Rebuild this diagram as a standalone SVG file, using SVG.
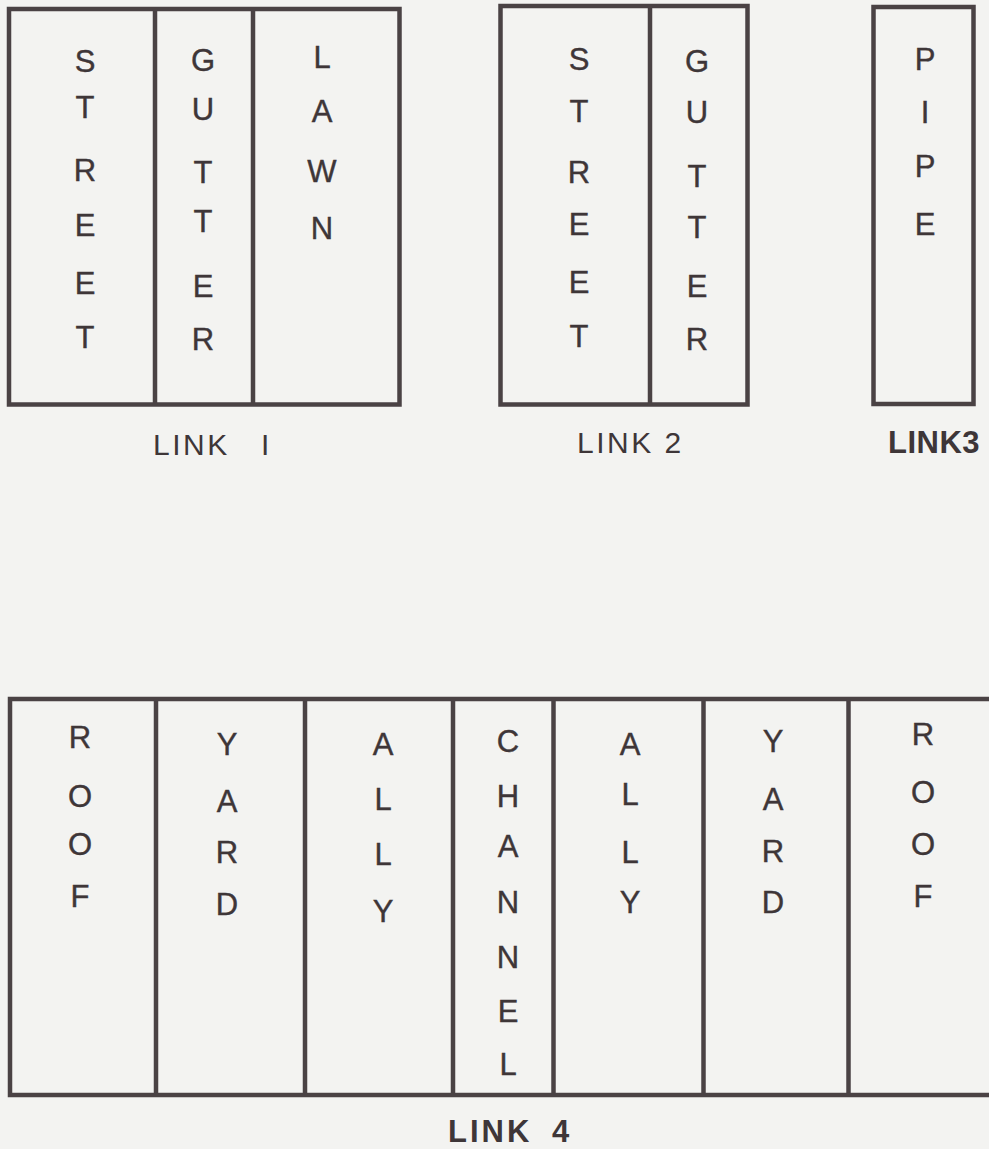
<svg xmlns="http://www.w3.org/2000/svg" width="989" height="1149" viewBox="0 0 989 1149">
<style>
.bg{fill:#f3f3f1}
.box{fill:none;stroke:#4a4244;stroke-width:4.5;stroke-linejoin:miter}
.div{stroke:#4a4244;stroke-width:4.5}
.t{font-family:"Liberation Sans",Arial,sans-serif;font-size:31px;fill:#3e3638;stroke:#3e3638;stroke-width:0.4;text-anchor:middle}
.lbl{font-family:"Liberation Sans",Arial,sans-serif;font-size:30px;fill:#3e3638}
.bold{font-weight:bold;font-size:31px}
</style>
<rect class="bg" x="0" y="0" width="989" height="1149"/>
<g id="link1">
<rect class="box" x="9" y="9" width="390.5" height="395.5"/>
<line class="div" x1="155" y1="9" x2="155" y2="404.5"/>
<line class="div" x1="253" y1="9" x2="253" y2="404.5"/>
<text class="t"><tspan x="85" y="72">S</tspan><tspan x="85" y="118">T</tspan><tspan x="85" y="181">R</tspan><tspan x="85" y="236">E</tspan><tspan x="85" y="294">E</tspan><tspan x="85" y="348">T</tspan></text>
<text class="t"><tspan x="203" y="71">G</tspan><tspan x="203" y="120">U</tspan><tspan x="203" y="183">T</tspan><tspan x="203" y="232">T</tspan><tspan x="203" y="297">E</tspan><tspan x="203" y="350">R</tspan></text>
<text class="t"><tspan x="322" y="68">L</tspan><tspan x="322" y="122">A</tspan><tspan x="322" y="182">W</tspan><tspan x="322" y="239">N</tspan></text>
<text class="lbl" x="153" y="455" letter-spacing="2.5">LINK <tspan x="261">I</tspan></text>
</g>
<g id="link2">
<rect class="box" x="500.5" y="6" width="247" height="398.5"/>
<line class="div" x1="650" y1="6" x2="650" y2="404.5"/>
<text class="t"><tspan x="579" y="70">S</tspan><tspan x="579" y="122">T</tspan><tspan x="579" y="183">R</tspan><tspan x="579" y="235">E</tspan><tspan x="579" y="293">E</tspan><tspan x="579" y="347">T</tspan></text>
<text class="t"><tspan x="697" y="72">G</tspan><tspan x="697" y="123">U</tspan><tspan x="697" y="187">T</tspan><tspan x="697" y="238">T</tspan><tspan x="697" y="297">E</tspan><tspan x="697" y="350">R</tspan></text>
<text class="lbl" x="577" y="453" letter-spacing="2.5">LINK 2</text>
</g>
<g id="link3">
<rect class="box" x="873.5" y="7" width="100" height="397"/>
<text class="t"><tspan x="925" y="70">P</tspan><tspan x="925" y="123">I</tspan><tspan x="925" y="177">P</tspan><tspan x="925" y="235">E</tspan></text>
<text class="lbl bold" x="888" y="453" letter-spacing="0.5">LINK3</text>
</g>
<g id="link4">
<rect class="box" x="10" y="699" width="990" height="396"/>
<line class="div" x1="156" y1="699" x2="156" y2="1095"/>
<line class="div" x1="305" y1="699" x2="305" y2="1095"/>
<line class="div" x1="453" y1="699" x2="453" y2="1095"/>
<line class="div" x1="553.5" y1="699" x2="553.5" y2="1095"/>
<line class="div" x1="703.5" y1="699" x2="703.5" y2="1095"/>
<line class="div" x1="848.5" y1="699" x2="848.5" y2="1095"/>
<text class="t"><tspan x="80" y="748">R</tspan><tspan x="80" y="807">O</tspan><tspan x="80" y="855">O</tspan><tspan x="80" y="907">F</tspan></text>
<text class="t"><tspan x="227" y="755">Y</tspan><tspan x="227" y="812">A</tspan><tspan x="227" y="863">R</tspan><tspan x="227" y="915">D</tspan></text>
<text class="t"><tspan x="383" y="755">A</tspan><tspan x="383" y="810">L</tspan><tspan x="383" y="865">L</tspan><tspan x="383" y="922">Y</tspan></text>
<text class="t"><tspan x="508" y="752">C</tspan><tspan x="508" y="807">H</tspan><tspan x="508" y="857">A</tspan><tspan x="508" y="913">N</tspan><tspan x="508" y="968">N</tspan><tspan x="508" y="1022">E</tspan><tspan x="508" y="1075">L</tspan></text>
<text class="t"><tspan x="630" y="755">A</tspan><tspan x="630" y="805">L</tspan><tspan x="630" y="863">L</tspan><tspan x="630" y="913">Y</tspan></text>
<text class="t"><tspan x="773" y="752">Y</tspan><tspan x="773" y="810">A</tspan><tspan x="773" y="862">R</tspan><tspan x="773" y="913">D</tspan></text>
<text class="t"><tspan x="923" y="745">R</tspan><tspan x="923" y="803">O</tspan><tspan x="923" y="855">O</tspan><tspan x="923" y="907">F</tspan></text>
<text class="lbl bold" x="448" y="1142" letter-spacing="3">LINK <tspan dx="8">4</tspan></text>
</g>
</svg>
